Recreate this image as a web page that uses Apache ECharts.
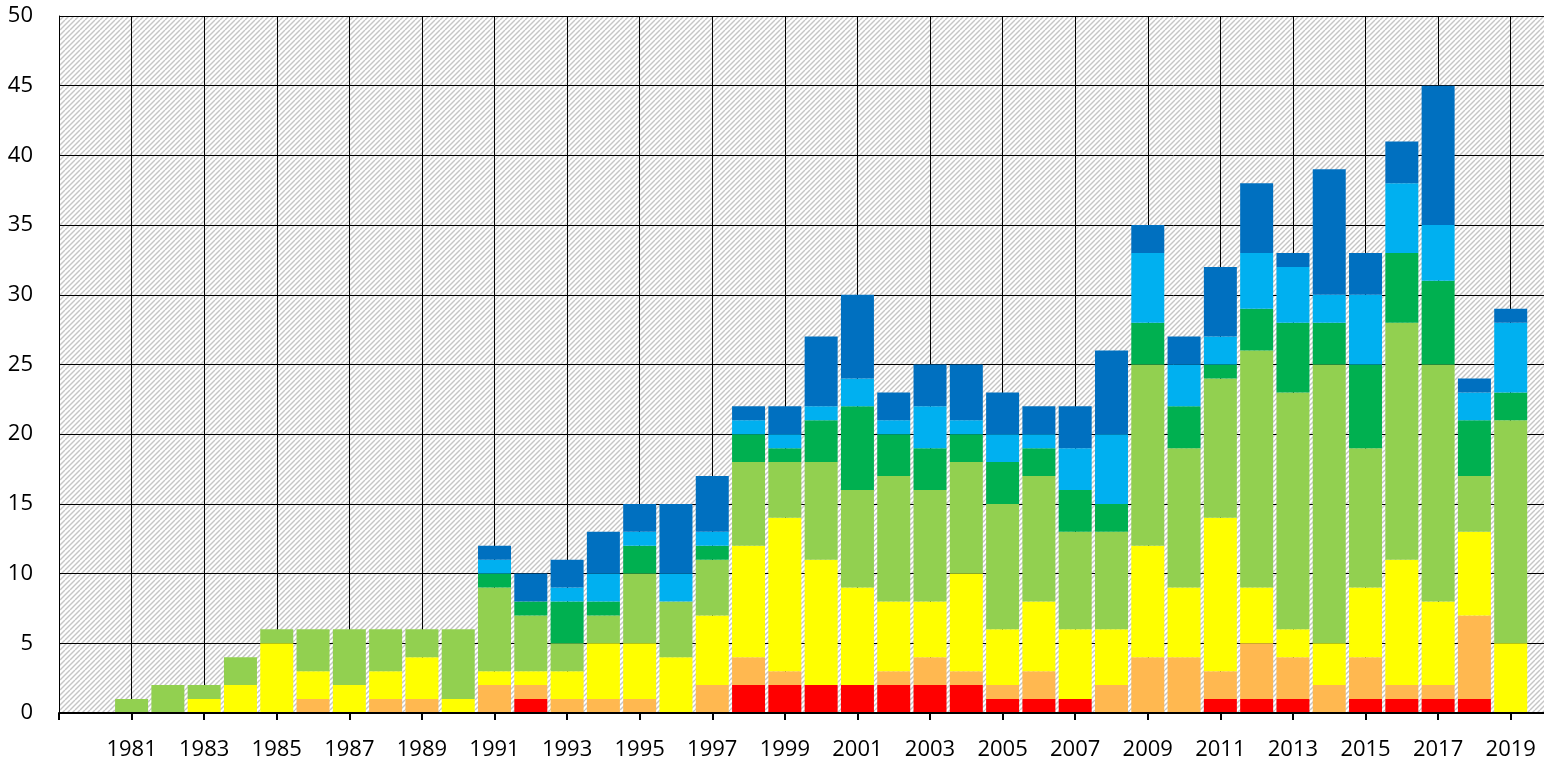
<!DOCTYPE html>
<html>
<head>
<meta charset="utf-8">
<script src="https://cdn.jsdelivr.net/npm/echarts@6/dist/echarts.min.js"></script>
<style>
html,body{margin:0;padding:0;background:#fff;}
#chart{width:1544px;height:758px;}
</style>
</head>
<body>
<div id="chart"></div>
<script>
// Axis categories (1979 and 2020 are empty slots at the axis ends)
const categories = ['1979','1980','1981','1982','1983','1984','1985','1986','1987','1988','1989','1990',
  '1991','1992','1993','1994','1995','1996','1997','1998','1999','2000','2001','2002','2003','2004',
  '2005','2006','2007','2008','2009','2010','2011','2012','2013','2014','2015','2016','2017','2018','2019','2020'];
// Values for years 1981..2019
const years = ['1981','1982','1983','1984','1985','1986','1987','1988','1989','1990',
  '1991','1992','1993','1994','1995','1996','1997','1998','1999','2000','2001','2002','2003','2004',
  '2005','2006','2007','2008','2009','2010','2011','2012','2013','2014','2015','2016','2017','2018','2019'];
const red    = [0,0,0,0,0,0,0,0,0,0, 0,1,0,0,0,0,0,2,2,2,2,2,2,2, 1,1,1,0,0,0,1,1,1,0,1,1,1,1,0];
const orange = [0,0,0,0,0,1,0,1,1,0, 2,1,1,1,1,0,2,2,1,0,0,1,2,1, 1,2,0,2,4,4,2,4,3,2,3,1,1,6,0];
const yellow = [0,0,1,2,5,2,2,2,3,1, 1,1,2,4,4,4,5,8,11,9,7,5,4,7, 4,5,5,4,8,5,11,4,2,3,5,9,6,6,5];
const lightGreen = [1,2,1,2,1,3,4,3,2,5, 6,4,2,2,5,4,4,6,4,7,7,9,8,8, 9,9,7,7,13,10,10,17,17,20,10,17,17,4,16];
const green  = [0,0,0,0,0,0,0,0,0,0, 1,1,3,1,2,0,1,2,1,3,6,3,3,2, 3,2,3,2,3,3,1,3,5,3,6,5,6,4,2];
const lightBlue = [0,0,0,0,0,0,0,0,0,0, 1,0,1,2,1,2,1,1,1,1,2,1,3,1, 2,1,3,5,5,3,2,4,4,2,5,5,4,2,5];
const blue   = [0,0,0,0,0,0,0,0,0,0, 1,2,2,3,2,5,4,1,2,5,6,2,3,4, 3,2,3,6,2,2,5,5,1,9,3,3,10,1,1];
const yTicks = [0,5,10,15,20,25,30,35,40,45,50];

const seriesDefs = [
  {name:'Rot', data:red, color:'#FF0000'},
  {name:'Orange', data:orange, color:'#FFB850'},
  {name:'Gelb', data:yellow, color:'#FFFF00'},
  {name:'Hellgrün', data:lightGreen, color:'#92D050'},
  {name:'Grün', data:green, color:'#00B050'},
  {name:'Hellblau', data:lightBlue, color:'#00B0F0'},
  {name:'Blau', data:blue, color:'#0070C0'}
];

function padded(arr){
  const m = {};
  years.forEach((y,i)=>{ m[y] = arr[i]; });
  return categories.map(c => (c in m ? m[c] : null));
}

// hatch pattern
const tile = document.createElement('canvas');
tile.width = 10; tile.height = 10;
const g = tile.getContext('2d');
g.fillStyle = '#ffffff'; g.fillRect(0,0,10,10);
g.strokeStyle = '#c6c6c6'; g.lineWidth = 1.4;
for (let c = -20; c <= 20; c += 5) {
  g.beginPath(); g.moveTo(c, 10); g.lineTo(c + 10, 0); g.stroke();
}

const FONT = '"Open Sans", "Noto Sans", sans-serif';
const chart = echarts.init(document.getElementById('chart'), null, {renderer:'canvas'});
chart.setOption({
  animation: false,
  backgroundColor: '#ffffff',
  grid: {
    left: 59, right: -3, top: 16, bottom: 45,
    outerBoundsMode: 'none',
    containLabel: false,
    show: true, borderWidth: 0,
    backgroundColor: {image: tile, repeat: 'repeat'}
  },
  xAxis: [{
    type: 'category',
    data: categories,
    boundaryGap: false,
    axisLine: {show: false},
    axisTick: {show: false},
    axisLabel: {show: false},
    splitLine: {show: true, interval: 1, lineStyle: {color: '#000', width: 1}},
    z: 0
  }, {
    type: 'category',
    data: categories,
    boundaryGap: false,
    position: 'bottom',
    axisLine: {show: true, onZero: false, lineStyle: {color: '#000', width: 2}},
    axisTick: {show: true, interval: 1, length: 7, lineStyle: {color: '#000', width: 2}},
    axisLabel: {
      interval: 1, margin: 26, color: '#000', fontSize: 22, fontFamily: FONT,
      formatter: v => (v === '1979' ? '' : v)
    },
    splitLine: {show: false},
    z: 10
  }],
  yAxis: {
    type: 'value',
    min: yTicks[0], max: yTicks[yTicks.length-1], interval: 5,
    axisLine: {show: true, lineStyle: {color: '#000', width: 1}},
    axisTick: {show: false},
    axisLabel: {margin: 26, color: '#000', fontSize: 22, fontFamily: FONT},
    splitLine: {show: true, lineStyle: {color: '#000', width: 1}},
    z: 0
  },
  series: seriesDefs.map(s => ({
    name: s.name,
    type: 'bar',
    stack: 'total',
    xAxisIndex: 0,
    barWidth: 33,
    data: padded(s.data),
    itemStyle: {color: s.color},
    z: 2
  }))
});
</script>
</body>
</html>
